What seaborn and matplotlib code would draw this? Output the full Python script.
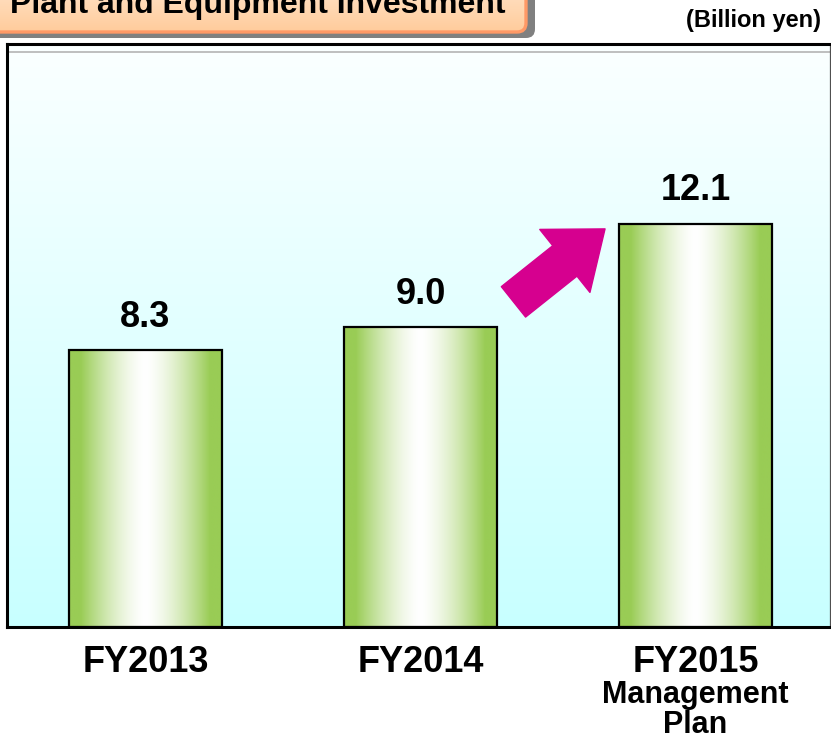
import matplotlib

matplotlib.use("Agg")
import matplotlib.pyplot as plt
import numpy as np
import seaborn as sns
from matplotlib.colors import to_rgb
from matplotlib.patches import FancyArrowPatch, FancyBboxPatch

# --- data ---
categories = ["FY2013", "FY2014", "FY2015"]
values = [8.3, 9.0, 12.1]
value_labels = ["8.3", "9.0", "12.1"]
title = "Plant and Equipment Investment"
unit = "(Billion yen)"
plan_lines = ["Management", "Plan"]

W, H = 831, 743
sns.set_style("white")
plt.rcParams["font.family"] = ["Liberation Sans", "DejaVu Sans"]
plt.rcParams["text.color"] = "black"
plt.rcParams["xtick.color"] = "black"

fig = plt.figure(figsize=(W / 100, H / 100), dpi=100)
ax = fig.add_axes([7 / W, (H - 627) / H, (830 - 7) / W, (627 - 44) / H])

# background: near-white -> light cyan, top to bottom
bg = np.linspace(0, 1, 256)[:, None, None]
top_c, bot_c = np.array(to_rgb("#fbffff")), np.array(to_rgb("#c8ffff"))
bg_img = top_c * (1 - bg) + bot_c * bg
ax.imshow(bg_img, extent=[0, 1, 0, 1], transform=ax.transAxes, aspect="auto",
          zorder=0, interpolation="bilinear")

sns.barplot(x=categories, y=values, width=0.555, ax=ax, color="#99cc55")

# horizontal green-white-green gradient inside each bar
u = np.linspace(0, 1, 256)
t = np.abs(u - 0.5) * 2
w = np.clip(t / 0.85, 0, 1) ** 1.5
green = np.array(to_rgb("#99cc55"))
bar_img = (np.ones(3) * (1 - w[:, None]) + green * w[:, None])[None, :, :]
for p in ax.patches:
    x0, y0 = p.get_x(), p.get_y()
    bw, bh = p.get_width(), p.get_height()
    ax.imshow(bar_img, extent=[x0, x0 + bw, y0, y0 + bh], aspect="auto",
              zorder=2, interpolation="bilinear")
    p.set_facecolor("none")
    p.set_edgecolor("black")
    p.set_linewidth(1.6)
    p.set_zorder(3)

for i, (v, lab) in enumerate(zip(values, value_labels)):
    ax.annotate(lab, xy=(i, v), xytext=(0, 17), textcoords="offset points",
                ha="center", va="baseline", fontsize=26, fontweight="bold",
                color="black", zorder=5)

ax.set_xlim(-0.5036, 2.489)
ax.set_ylim(0, 17.5)
ax.axhline(17.25, color="#b4b4b4", lw=1.2, zorder=1)

# rising arrow between FY2014 and FY2015
arrow = FancyArrowPatch((1.338, 9.76), (1.671, 11.95),
                        arrowstyle="simple,head_length=3.7,head_width=5.8,tail_width=2.8",
                        mutation_scale=10, color="#d6008f", shrinkA=0, shrinkB=0,
                        zorder=4)
ax.add_patch(arrow)

ax.set_yticks([])
ax.set_xlabel("")
ax.set_ylabel("")
ax.tick_params(axis="x", length=0, pad=13)
for lab in ax.get_xticklabels():
    lab.set_fontsize(26)
    lab.set_fontweight("bold")
    lab.set_color("black")
for side in ["left", "top", "bottom"]:
    ax.spines[side].set_color("black")
    ax.spines[side].set_linewidth(2.2)
ax.spines["right"].set_color("#505050")
ax.spines["right"].set_linewidth(0.9)
for k, line in enumerate(plan_lines):
    ax.annotate(line, xy=(2, 0), xycoords=("data", "axes fraction"),
                xytext=(0, -55 - 21 * k), textcoords="offset points",
                ha="center", va="baseline", fontsize=22, fontweight="bold",
                color="black")

# decoration layer in pixel coordinates: title box + unit
deco = fig.add_axes([0, 0, 1, 1], zorder=10)
deco.axis("off")
shadow = FancyBboxPatch((-20, -40), 555, 78, boxstyle="round,pad=0,rounding_size=9",
                        facecolor="#808080", edgecolor="none", zorder=1)
deco.add_patch(shadow)
box = FancyBboxPatch((-20, -40), 546, 72, boxstyle="round,pad=0,rounding_size=9",
                     facecolor="none", edgecolor="#ff9966", linewidth=2.4, zorder=3)
deco.add_patch(box)
g = np.linspace(0, 1, 64)[:, None, None]
box_img = np.array(to_rgb("#ffeedd")) * (1 - g) + np.array(to_rgb("#ffcc9c")) * g
im = deco.imshow(box_img, extent=[-20, 526, 32, -40], aspect="auto",
                 interpolation="bilinear", zorder=2)
im.set_clip_path(box)
deco.set_xlim(0, W)
deco.set_ylim(H, 0)
deco.text(10, 13, title, ha="left", va="baseline", fontsize=23, fontweight="bold",
          color="black", zorder=4)
deco.text(821, 27, unit, ha="right", va="baseline", fontsize=17, fontweight="bold",
          color="black", zorder=4)

fig.savefig("out.png", dpi=100)
plt.close(fig)
